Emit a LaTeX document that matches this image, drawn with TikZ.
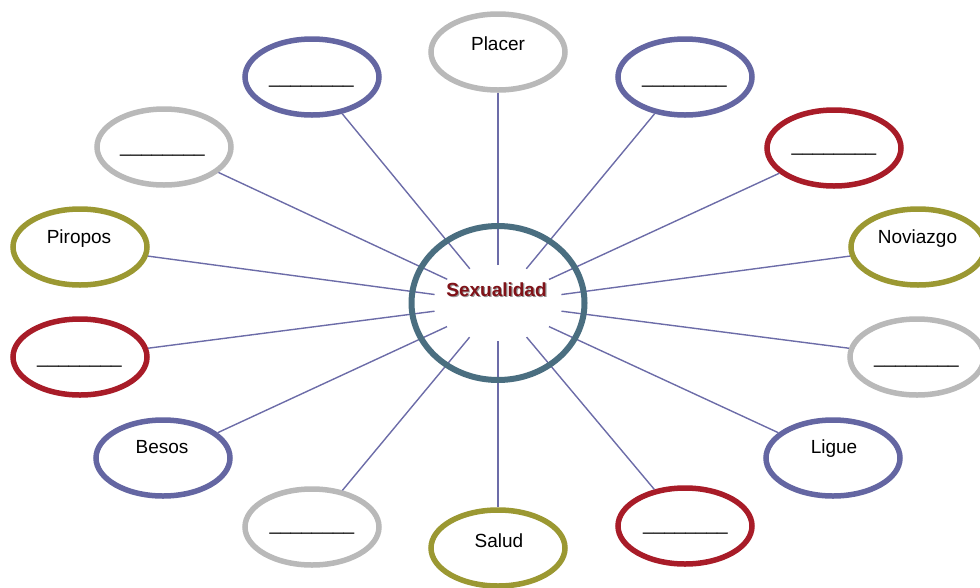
\documentclass[tikz,border=0pt]{standalone}
\usepackage{fontspec}
\setmainfont{Liberation Sans}
\usetikzlibrary{shapes.geometric}
\definecolor{cblue}{RGB}{100,102,162}
\definecolor{cred}{RGB}{168,28,40}
\definecolor{colive}{RGB}{155,152,50}
\definecolor{cgray}{RGB}{185,185,185}
\definecolor{cline}{RGB}{108,108,168}
\definecolor{cteal}{RGB}{74,110,128}
\definecolor{ctitle}{RGB}{128,18,24}
\definecolor{cshadow}{RGB}{150,150,150}
\begin{document}
\begin{tikzpicture}[x=1pt,y=-1pt,
  bub/.style={ellipse, draw, line width=5.5pt, minimum width=134pt, minimum height=76pt, inner sep=0pt, fill=white},
  word/.style={anchor=base, font=\fontsize{19}{22}\selectfont, text=black, inner sep=0pt},
  conn/.style={draw=cline, line width=1.4pt}]
\useasboundingbox (0,0) rectangle (980,587);
% hidden hub from which connectors start
\node[ellipse, minimum width=130pt, minimum height=76pt, inner sep=0pt, outer sep=0pt] (hub) at (498,303) {};
% outer bubbles
\node[bub, draw=cgray]  (e1)  at (498,52)  {};
\node[bub, draw=cblue]  (e2)  at (312,77)  {};
\node[bub, draw=cblue]  (e3)  at (685,77)  {};
\node[bub, draw=cgray]  (e4)  at (164,147) {};
\node[bub, draw=cred]   (e5)  at (834,148) {};
\node[bub, draw=colive] (e6)  at (80,247)  {};
\node[bub, draw=colive] (e7)  at (918,247) {};
\node[bub, draw=cred]   (e8)  at (80,357)  {};
\node[bub, draw=cgray]  (e9)  at (917,357) {};
\node[bub, draw=cblue]  (e10) at (163,458) {};
\node[bub, draw=cblue]  (e11) at (833,458) {};
\node[bub, draw=cgray]  (e12) at (312,527) {};
\node[bub, draw=colive] (e13) at (498,548) {};
\node[bub, draw=cred]   (e14) at (685,526) {};
% connectors
\foreach \i in {1,...,14}{\draw[conn] (hub) -- (e\i);}
% centre
\node[ellipse, draw=cteal, line width=6pt, minimum width=173pt, minimum height=154pt, inner sep=0pt] (sex) at (498,303) {};
\node[anchor=base, inner sep=0pt, font=\bfseries\fontsize{19}{22}\selectfont, text=cshadow] (sexsh) at (497.7,297.2) {Sexualidad};
\node[anchor=base, inner sep=0pt, font=\bfseries\fontsize{19}{22}\selectfont, text=ctitle] (sexlbl) at (496.5,296) {Sexualidad};
% labels
\node[word] (t1)  at (498,50)   {Placer};
\node[word] (t6)  at (79,243)   {Piropos};
\node[word] (t7)  at (917.5,243) {Noviazgo};
\node[word] (t10) at (162,453)  {Besos};
\node[word] (t11) at (834,453)  {Ligue};
\node[word] (t13) at (499,547)  {Salud};
% blanks
\node[word] (b2)  at (311.5,83.5) {\_\_\_\_\_\_\_\_};
\node[word] (b3)  at (684.5,83.5) {\_\_\_\_\_\_\_\_};
\node[word] (b4)  at (162.5,152.5) {\_\_\_\_\_\_\_\_};
\node[word] (b5)  at (834,151.5) {\_\_\_\_\_\_\_\_};
\node[word] (b8)  at (79.5,363.5) {\_\_\_\_\_\_\_\_};
\node[word] (b9)  at (916.5,363.5) {\_\_\_\_\_\_\_\_};
\node[word] (b12) at (312,530.5) {\_\_\_\_\_\_\_\_};
\node[word] (b14) at (685.5,530.5) {\_\_\_\_\_\_\_\_};
\end{tikzpicture}
\end{document}
